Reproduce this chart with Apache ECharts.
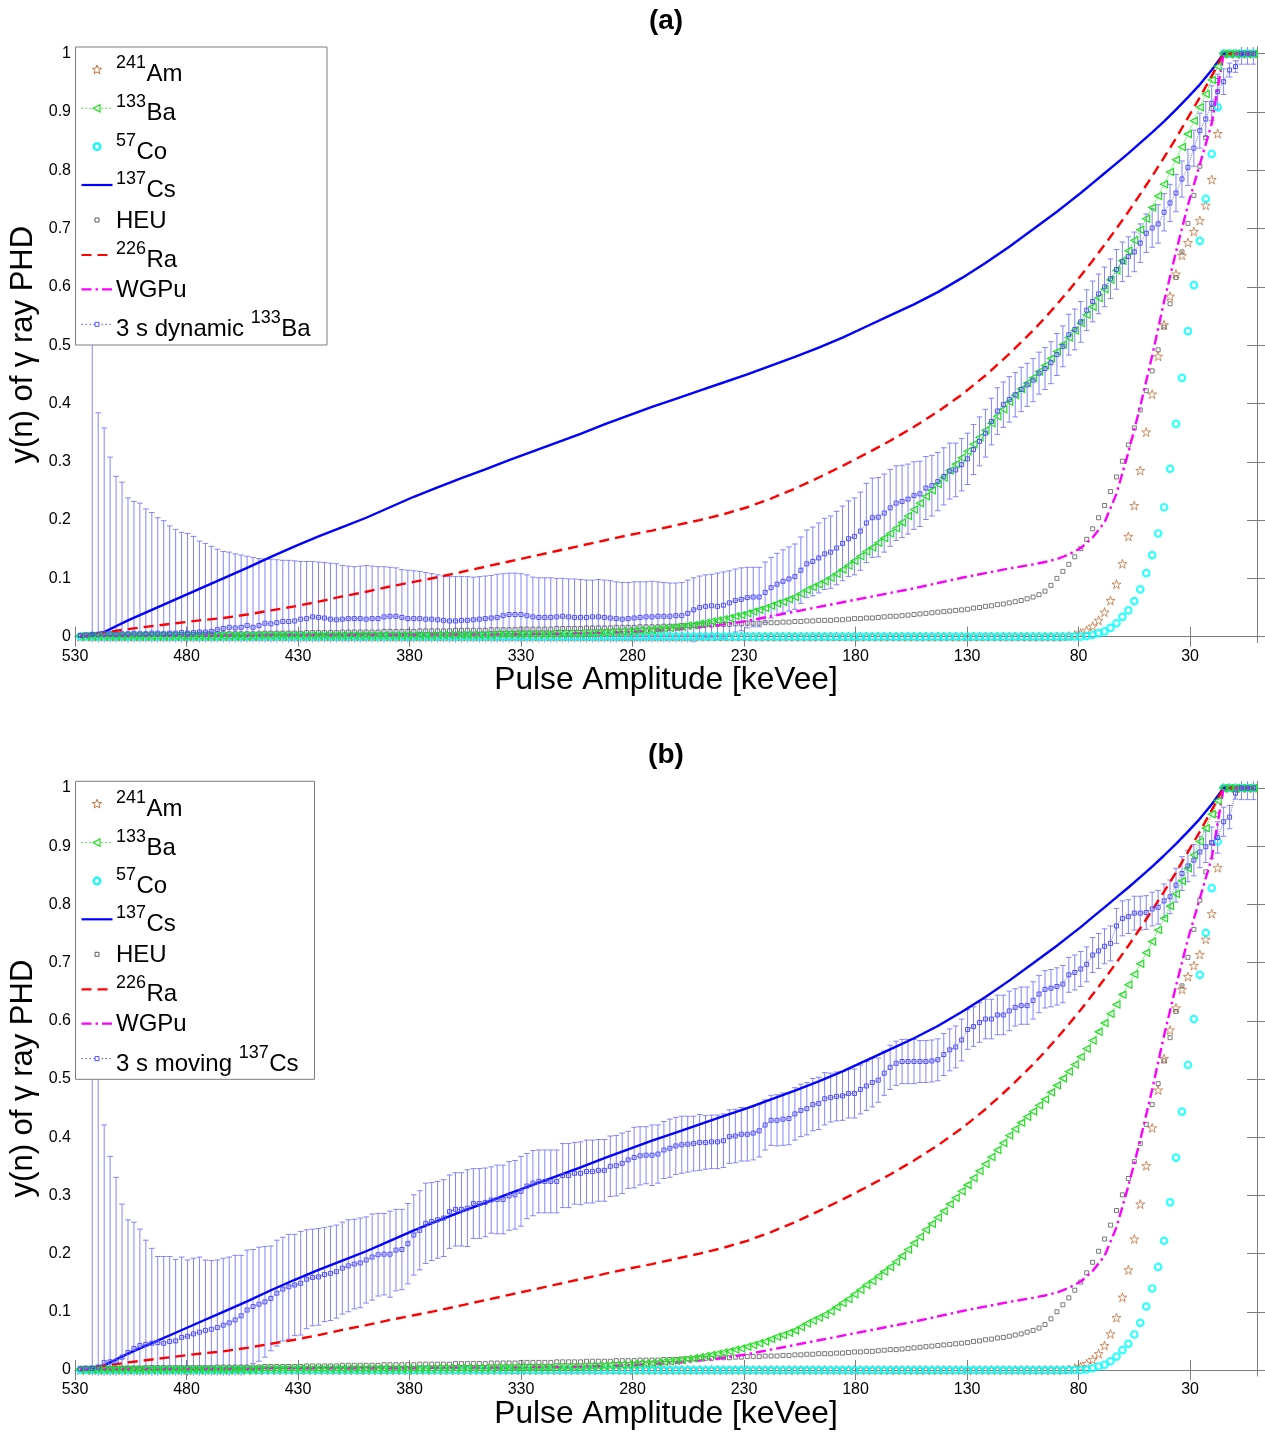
<!DOCTYPE html>
<html>
<head>
<meta charset="utf-8">
<script src="https://cdn.jsdelivr.net/npm/echarts@6.0.0/dist/echarts.min.js"></script>
<style>
  html, body { margin: 0; padding: 0; background: #ffffff; }
  #chart { width: 1265px; height: 1433px; }
</style>
</head>
<body>
<div id="chart"></div>
<script>
// Pulse-height-distribution cumulative curves y(n) versus pulse amplitude.

// Bin centres of the spectra (keVee)
const energyKeV = [
  527.60, 524.93, 522.26, 519.59, 516.92, 514.25, 511.58, 508.91, 506.24, 503.57,
  500.90, 498.23, 495.56, 492.89, 490.22, 487.55, 484.88, 482.21, 479.54, 476.87,
  474.20, 471.53, 468.86, 466.19, 463.52, 460.85, 458.18, 455.51, 452.84, 450.17,
  447.50, 444.83, 442.16, 439.49, 436.82, 434.15, 431.48, 428.81, 426.14, 423.47,
  420.80, 418.13, 415.46, 412.79, 410.12, 407.45, 404.78, 402.11, 399.44, 396.77,
  394.10, 391.43, 388.76, 386.09, 383.42, 380.75, 378.08, 375.41, 372.74, 370.07,
  367.40, 364.73, 362.06, 359.39, 356.72, 354.05, 351.38, 348.71, 346.04, 343.37,
  340.70, 338.03, 335.36, 332.69, 330.02, 327.35, 324.68, 322.01, 319.34, 316.67,
  314.00, 311.33, 308.66, 305.99, 303.32, 300.65, 297.98, 295.31, 292.64, 289.97,
  287.30, 284.63, 281.96, 279.29, 276.62, 273.95, 271.28, 268.61, 265.94, 263.27,
  260.60, 257.93, 255.26, 252.59, 249.92, 247.25, 244.58, 241.91, 239.24, 236.57,
  233.90, 231.23, 228.56, 225.89, 223.22, 220.55, 217.88, 215.21, 212.54, 209.87,
  207.20, 204.53, 201.86, 199.19, 196.52, 193.85, 191.18, 188.51, 185.84, 183.17,
  180.50, 177.83, 175.16, 172.49, 169.82, 167.15, 164.48, 161.81, 159.14, 156.47,
  153.80, 151.13, 148.46, 145.79, 143.12, 140.45, 137.78, 135.11, 132.44, 129.77,
  127.10, 124.43, 121.76, 119.09, 116.42, 113.75, 111.08, 108.41, 105.74, 103.07,
  100.40, 97.73, 95.06, 92.39, 89.72, 87.05, 84.38, 81.71, 79.04, 76.37,
  73.70, 71.03, 68.36, 65.69, 63.02, 60.35, 57.68, 55.01, 52.34, 49.67,
  47.00, 44.33, 41.66, 38.99, 36.32, 33.65, 30.98, 28.31, 25.64, 22.97,
  20.30, 17.63, 14.96, 12.29, 9.62, 6.95, 4.28, 1.61
];

// 241Am (stars)
const am241 = [
  0,0,0,0,0,0,0,0,0,0,0,0,0,0,0,0,0,0,0,0,
  0,0,0,0,0,0,0,0,0,0,0,0,0,0,0,0,0,0,0,0,
  0,0,0,0,0,0,0,0,0,0,0,0,0,0,0,0,0,0,0,0,
  0,0,0,0,0,0,0,0,0,0,0,0,0,0,0,0,0,0,0,0,
  0,0,0,0,0,0,0,0,0,0,0,0,0,0,0,0,0,0,0,0,
  0,0,0,0,0,0,0,0,0,0,0,0,0,0,0,0,0,0,0,0,
  0,0,0,0,0,0,0,0,0,0,0,0,0,0,0,0,0,0,0,0,
  0,0,0,0,0,0,0,0,0,0,0,0,0,0,0,0,0,0,0,0,
  0,0,0,0,0,0,
  0.001, 0.003, 0.006, 0.011,
  0.018, 0.028, 0.042, 0.062, 0.090, 0.125, 0.172, 0.225, 0.285, 0.351,
  0.416, 0.481, 0.535, 0.584, 0.622, 0.654, 0.676, 0.695, 0.714, 0.740,
  0.784, 0.863, 1, 1, 1, 1, 1, 1
];

// 133Ba (triangles, dotted)
const ba133 = [
  0.001,0.001,0.001,0.001,0.001,0.001,0.001,0.001,0.001,0.001,
  0.001,0.001,0.001,0.001,0.001,0.001,0.001,0.001,0.001,0.001,
  0.001,0.001,0.001,0.001,0.001,0.001,0.001,0.001,0.001,0.001,
  0.002,0.002,0.002,0.002,0.002,0.002,0.002,0.002,0.002,0.002,
  0.002,0.002,0.002,0.002,0.002,0.002,0.002,0.002,0.002,0.002,
  0.002,0.002,0.002,0.002,0.002,0.002,0.002,0.002,0.002,0.002,
  0.003,0.003,0.003,0.003,0.003,0.003,0.003,0.003,0.003,0.003,
  0.004,0.004,0.004,0.004,0.004,0.004,0.004,0.004,0.004,0.004,
  0.005,0.005,0.005,0.005,0.005,0.006,0.006,0.007,0.007,0.008,
  0.008,0.009,0.009,0.010,0.011,0.011,0.012,0.013,0.014,0.015,
  0.016,0.017,0.019,0.020,0.022,0.024,0.026,0.028,0.030,0.032,
  0.035,0.037,0.040,0.043,0.046,0.049,0.053,0.057,0.060,0.064,
  0.068,0.074,0.080,0.085,0.090,0.095,0.101,0.108,0.115,0.122,
  0.130,0.138,0.146,0.153,0.161,0.169,0.177,0.186,0.196,0.207,
  0.218,0.229,0.241,0.251,0.262,0.273,0.285,0.296,0.307,0.318,
  0.330,0.342,0.354,0.366,0.378,0.390,0.403,0.414,0.425,0.435,
  0.444,0.455,0.465,0.477,0.489,0.501,0.513,0.525,0.538,0.552,
  0.566,0.581,0.596,0.612,0.628,0.645,0.662,0.680,0.698,0.717,
  0.736,0.756,0.776,0.797,0.818,0.840,0.862,0.885,0.908,0.931,
  0.955,0.978,1,1,1,1,1,1
];

// 57Co (circles)
const co57 = [
  0,0,0,0,0,0,0,0,0,0,0,0,0,0,0,0,0,0,0,0,
  0,0,0,0,0,0,0,0,0,0,0,0,0,0,0,0,0,0,0,0,
  0,0,0,0,0,0,0,0,0,0,0,0,0,0,0,0,0,0,0,0,
  0,0,0,0,0,0,0,0,0,0,0,0,0,0,0,0,0,0,0,0,
  0,0,0,0,0,0,0,0,0,0,0,0,0,0,0,0,0,0,0,0,
  0,0,0,0,0,0,0,0,0,0,0,0,0,0,0,0,0,0,0,0,
  0,0,0,0,0,0,0,0,0,0,0,0,0,0,0,0,0,0,0,0,
  0,0,0,0,0,0,0,0,0,0,0,0,0,0,0,0,0,0,0,0,
  0,0,0,0,0,0,0,0,0,
  0.001,
  0.003, 0.006, 0.009, 0.015, 0.023, 0.034, 0.045, 0.061, 0.081, 0.109,
  0.140, 0.177, 0.222, 0.288, 0.365, 0.444, 0.524, 0.603, 0.679, 0.751,
  0.828, 0.908, 1, 1, 1, 1, 1, 1
];

// HEU (small squares)
const heu = [
  0.002,0.002,0.003,0.003,0.003,0.003,0.003,0.003,0.003,0.003,
  0.003,0.004,0.004,0.004,0.004,0.004,0.004,0.004,0.004,0.004,
  0.004,0.004,0.004,0.005,0.005,0.005,0.005,0.005,0.005,0.005,
  0.005,0.006,0.006,0.006,0.006,0.006,0.006,0.006,0.007,0.007,
  0.007,0.007,0.007,0.007,0.008,0.008,0.008,0.008,0.008,0.008,
  0.008,0.009,0.009,0.009,0.009,0.009,0.009,0.010,0.010,0.010,
  0.010,0.010,0.010,0.011,0.011,0.011,0.011,0.011,0.011,0.012,
  0.012,0.012,0.012,0.012,0.013,0.013,0.013,0.013,0.013,0.013,
  0.014,0.014,0.014,0.014,0.014,0.015,0.015,0.015,0.015,0.015,
  0.016,0.016,0.016,0.016,0.017,0.017,0.017,0.017,0.018,0.018,
  0.018,0.019,0.019,0.019,0.020,0.020,0.020,0.021,0.021,0.021,
  0.022,0.022,0.023,0.023,0.023,0.024,0.024,0.024,0.025,0.025,
  0.026,0.026,0.027,0.027,0.028,0.028,0.028,0.029,0.029,0.030,
  0.031,0.031,0.032,0.032,0.033,0.034,0.035,0.035,0.036,0.037,
  0.038,0.039,0.040,0.041,0.042,0.043,0.044,0.045,0.046,0.047,
  0.049,0.050,0.052,0.053,0.055,0.056,0.058,0.060,0.062,0.065,
  0.068,0.072,0.078,0.088,0.100,0.112,0.124,0.137,0.151,0.167,
  0.185,0.204,0.225,0.249,0.274,0.301,0.329,0.358,0.389,0.422,
  0.456,0.492,0.531,0.571,0.616,0.660,0.709,0.757,0.807,0.856,
  0.906,0.954,1,1,1,1,1,1
];

// Energies used for the continuous curves (137Cs, 226Ra, WGPu)
const lineEnergyKeV = [
  527.60, 516.92, 506.24, 495.56, 484.88, 474.20, 463.52, 452.84, 442.16, 431.48,
  420.80, 410.12, 399.44, 388.76, 378.08, 367.40, 356.72, 346.04, 335.36, 324.68,
  314.00, 303.32, 292.64, 281.96, 271.28, 260.60, 249.92, 239.24, 228.56, 217.88,
  207.20, 196.52, 185.84, 175.16, 164.48, 153.80, 143.12, 132.44, 121.76, 111.08,
  100.40, 95.06, 89.72, 84.38, 79.04, 73.70, 68.36, 63.02, 57.68, 52.34,
  47.00, 41.66, 36.32, 30.98, 25.64, 20.30, 14.96, 1.61
];

const cs137 = [
  0.000, 0.008, 0.028, 0.046, 0.064, 0.082, 0.100, 0.118, 0.137, 0.155,
  0.172, 0.188, 0.204, 0.222, 0.240, 0.256, 0.272, 0.287, 0.303, 0.318,
  0.333, 0.348, 0.364, 0.379, 0.394, 0.408, 0.422, 0.436, 0.450, 0.465,
  0.480, 0.496, 0.513, 0.532, 0.551, 0.570, 0.591, 0.615, 0.641, 0.669,
  0.699, 0.714, 0.729, 0.745, 0.761, 0.778, 0.795, 0.812, 0.829, 0.847,
  0.865, 0.884, 0.904, 0.925, 0.947, 0.972, 1.000, 1.000
];

const ra226 = [
  0.000, 0.007, 0.013, 0.018, 0.023, 0.028, 0.032, 0.038, 0.045, 0.052,
  0.060, 0.069, 0.077, 0.086, 0.094, 0.102, 0.111, 0.120, 0.129, 0.138,
  0.147, 0.156, 0.165, 0.174, 0.182, 0.191, 0.200, 0.210, 0.222, 0.237,
  0.254, 0.273, 0.293, 0.314, 0.336, 0.360, 0.386, 0.415, 0.448, 0.485,
  0.525, 0.547, 0.570, 0.594, 0.619, 0.645, 0.672, 0.700, 0.729, 0.759,
  0.790, 0.822, 0.855, 0.890, 0.925, 0.962, 1.000, 1.000
];

const wgpu = [
  0.002, 0.002, 0.002, 0.002, 0.002, 0.002, 0.002, 0.002, 0.003, 0.003,
  0.003, 0.003, 0.003, 0.003, 0.003, 0.004, 0.004, 0.004, 0.004, 0.005,
  0.005, 0.006, 0.007, 0.008, 0.010, 0.012, 0.016, 0.021, 0.027, 0.035,
  0.043, 0.051, 0.059, 0.067, 0.075, 0.083, 0.092, 0.101, 0.109, 0.117,
  0.124, 0.128, 0.133, 0.141, 0.152, 0.170, 0.196, 0.245, 0.316, 0.395,
  0.482, 0.575, 0.660, 0.740, 0.810, 0.880, 1.000, 1.000
];

// 3 s dynamic 133Ba: mean and standard deviation per bin
const dynBa133Mean = [
  0.002,0.003,0.004,0.004,0.005,0.005,0.004,0.005,0.005,0.006,
  0.005,0.005,0.006,0.006,0.005,0.006,0.006,0.007,0.006,0.007,
  0.008,0.008,0.009,0.012,0.014,0.016,0.015,0.016,0.019,0.016,
  0.019,0.023,0.022,0.024,0.026,0.026,0.027,0.030,0.031,0.034,
  0.033,0.032,0.030,0.029,0.030,0.031,0.031,0.031,0.030,0.031,
  0.031,0.034,0.035,0.035,0.033,0.031,0.031,0.031,0.030,0.030,
  0.029,0.028,0.027,0.027,0.028,0.028,0.029,0.030,0.031,0.032,
  0.033,0.036,0.038,0.038,0.038,0.036,0.034,0.033,0.033,0.033,
  0.034,0.035,0.034,0.033,0.033,0.033,0.034,0.034,0.033,0.032,
  0.031,0.030,0.031,0.032,0.033,0.034,0.034,0.035,0.035,0.035,
  0.036,0.036,0.040,0.046,0.050,0.052,0.053,0.052,0.054,0.058,
  0.062,0.064,0.067,0.068,0.068,0.076,0.084,0.090,0.095,0.099,
  0.103,0.114,0.125,0.129,0.135,0.142,0.145,0.152,0.160,0.168,
  0.172,0.181,0.195,0.204,0.205,0.212,0.221,0.229,0.232,0.236,
  0.242,0.245,0.255,0.259,0.266,0.275,0.284,0.286,0.295,0.305,
  0.321,0.335,0.349,0.369,0.387,0.398,0.407,0.415,0.424,0.432,
  0.440,0.452,0.460,0.470,0.484,0.498,0.518,0.527,0.540,0.560,
  0.575,0.588,0.600,0.614,0.630,0.643,0.652,0.660,0.675,0.692,
  0.701,0.708,0.728,0.744,0.761,0.785,0.805,0.838,0.868,0.888,
  0.915,0.935,0.952,0.972,0.978,1,1,1
];
const dynBa133Err = [
  0,0,0.616,0.380,0.353,0.303,0.271,0.260,0.233,0.226,
  0.224,0.214,0.207,0.198,0.194,0.184,0.178,0.172,0.171,0.165,
  0.156,0.152,0.146,0.138,0.132,0.129,0.127,0.124,0.119,0.120,
  0.115,0.110,0.111,0.108,0.105,0.105,0.103,0.099,0.098,0.095,
  0.095,0.095,0.096,0.096,0.092,0.090,0.089,0.090,0.092,0.090,
  0.089,0.086,0.084,0.083,0.082,0.083,0.082,0.081,0.080,0.078,
  0.077,0.076,0.076,0.076,0.075,0.075,0.073,0.073,0.073,0.073,
  0.074,0.072,0.071,0.071,0.070,0.070,0.068,0.068,0.068,0.068,
  0.066,0.065,0.065,0.066,0.065,0.064,0.063,0.064,0.064,0.064,
  0.063,0.063,0.062,0.062,0.061,0.060,0.061,0.059,0.058,0.057,
  0.056,0.057,0.057,0.055,0.054,0.054,0.054,0.057,0.057,0.055,
  0.054,0.054,0.052,0.051,0.051,0.052,0.052,0.053,0.054,0.055,
  0.056,0.057,0.058,0.059,0.060,0.061,0.062,0.063,0.064,0.065,
  0.066,0.067,0.068,0.068,0.068,0.067,0.066,0.064,0.062,0.060,
  0.058,0.056,0.054,0.052,0.050,0.049,0.048,0.046,0.045,0.044,
  0.043,0.042,0.041,0.040,0.040,0.039,0.039,0.038,0.038,0.037,
  0.037,0.036,0.036,0.036,0.036,0.035,0.035,0.035,0.035,0.035,
  0.035,0.034,0.034,0.034,0.034,0.034,0.034,0.034,0.033,0.033,
  0.033,0.033,0.032,0.032,0.032,0.031,0.031,0.031,0.030,0.030,
  0.030,0.030,0.022,0.012,0.010,0.018,0.018,0.018
];

// 3 s moving 137Cs: mean and standard deviation per bin
const movCs137Mean = [
  0.002,0.003,0.003,0.005,0.013,0.014,0.015,0.022,0.030,0.037,
  0.042,0.044,0.046,0.047,0.046,0.049,0.050,0.056,0.058,0.062,
  0.065,0.068,0.070,0.073,0.077,0.081,0.086,0.093,0.103,0.109,
  0.113,0.117,0.123,0.132,0.139,0.143,0.146,0.149,0.156,0.159,
  0.160,0.164,0.166,0.169,0.175,0.179,0.182,0.184,0.189,0.194,
  0.198,0.199,0.199,0.206,0.207,0.217,0.232,0.240,0.252,0.255,
  0.258,0.261,0.272,0.276,0.276,0.278,0.286,0.286,0.288,0.292,
  0.293,0.293,0.299,0.301,0.307,0.316,0.321,0.324,0.324,0.324,
  0.324,0.334,0.334,0.338,0.338,0.341,0.341,0.343,0.343,0.350,
  0.351,0.355,0.361,0.365,0.368,0.369,0.369,0.371,0.378,0.381,
  0.385,0.387,0.388,0.389,0.391,0.391,0.392,0.392,0.394,0.401,
  0.402,0.405,0.405,0.407,0.411,0.421,0.429,0.429,0.431,0.432,
  0.440,0.446,0.449,0.456,0.458,0.466,0.468,0.470,0.471,0.475,
  0.475,0.482,0.488,0.494,0.498,0.510,0.520,0.527,0.530,0.530,
  0.530,0.530,0.530,0.531,0.533,0.542,0.550,0.555,0.567,0.585,
  0.590,0.597,0.603,0.603,0.610,0.610,0.617,0.623,0.626,0.626,
  0.635,0.646,0.654,0.656,0.659,0.663,0.679,0.683,0.689,0.697,
  0.713,0.720,0.728,0.733,0.763,0.776,0.779,0.785,0.785,0.786,
  0.792,0.795,0.806,0.813,0.833,0.853,0.866,0.876,0.890,0.899,
  0.906,0.915,0.942,0.950,0.991,1,1,1
];
const movCs137Err = [
  0,0,0.617,0.575,0.408,0.353,0.316,0.263,0.228,0.217,
  0.200,0.179,0.163,0.148,0.149,0.146,0.140,0.138,0.131,0.130,
  0.129,0.121,0.118,0.116,0.115,0.113,0.111,0.104,0.103,0.098,
  0.098,0.095,0.090,0.091,0.089,0.090,0.087,0.089,0.085,0.083,
  0.083,0.081,0.081,0.080,0.079,0.079,0.077,0.077,0.074,0.074,
  0.071,0.070,0.074,0.070,0.069,0.069,0.069,0.068,0.069,0.067,
  0.066,0.066,0.063,0.063,0.063,0.066,0.060,0.060,0.059,0.057,
  0.059,0.059,0.059,0.059,0.060,0.056,0.056,0.054,0.054,0.054,
  0.054,0.055,0.055,0.053,0.054,0.054,0.054,0.053,0.053,0.052,
  0.052,0.052,0.049,0.052,0.050,0.049,0.052,0.050,0.049,0.050,
  0.049,0.049,0.048,0.047,0.048,0.046,0.046,0.046,0.046,0.046,
  0.046,0.046,0.046,0.046,0.045,0.043,0.043,0.044,0.045,0.045,
  0.045,0.045,0.045,0.045,0.045,0.045,0.042,0.042,0.042,0.042,
  0.042,0.042,0.042,0.042,0.038,0.038,0.038,0.038,0.038,0.038,
  0.038,0.036,0.036,0.036,0.036,0.036,0.036,0.036,0.036,0.034,
  0.034,0.034,0.034,0.034,0.034,0.034,0.034,0.032,0.032,0.032,
  0.032,0.032,0.032,0.032,0.032,0.032,0.030,0.030,0.030,0.030,
  0.030,0.030,0.030,0.030,0.030,0.030,0.029,0.029,0.029,0.029,
  0.029,0.029,0.029,0.029,0.029,0.029,0.027,0.027,0.027,0.027,
  0.027,0.027,0.025,0.020,0.010,0.020,0.020,0.020
];

// Axis ticks
const xTicks = [530, 480, 430, 380, 330, 280, 230, 180, 130, 80, 30];
const yTicks = [0, 0.1, 0.2, 0.3, 0.4, 0.5, 0.6, 0.7, 0.8, 0.9, 1];

const FONT = '"Liberation Sans", Arial, Helvetica, sans-serif';
const C = {
  am: '#c4733f', ba: '#1ee01e', co: '#00ffff', cs: '#0000ff', heu: '#5a5a5a',
  ra: '#ff0000', wgpu: '#ff00ff', dyn: '#4f4fff', dynBar: '#8383ff', frame: '#7c7c7c'
};
const STAR = 'path://M50,2 L61.2,36.5 L97.5,36.5 L68.2,57.8 L79.4,92.3 L50,71 L20.6,92.3 L31.8,57.8 L2.5,36.5 L38.8,36.5 Z';
const CLEAR = 'rgba(0,0,0,0)';

const PANELS = [
  { top: 47, height: 595.5, title: '(a)', dynMean: dynBa133Mean, dynErr: dynBa133Err,
    dynLabel: ['3 s dynamic ', '133', 'Ba'], legendW: 251.5 },
  { top: 781.3, height: 594.5, title: '(b)', dynMean: movCs137Mean, dynErr: movCs137Err,
    dynLabel: ['3 s moving ', '137', 'Cs'], legendW: 239 }
];
const GRID_LEFT = 75, GRID_W = 1182;

const pairs = (xs, ys) => xs.map((x, i) => [x, ys[i]]);

function errorBar(params, api) {
  const err = api.value(3);
  if (!(err > 0)) return null;
  const x = api.value(0);
  const hi = api.coord([x, api.value(2)]);
  const lo = api.coord([x, api.value(1)]);
  const w = 2.8;
  const style = { stroke: C.dynBar, lineWidth: 1 };
  return {
    type: 'group',
    children: [
      { type: 'line', shape: { x1: hi[0], y1: hi[1], x2: lo[0], y2: lo[1] }, style },
      { type: 'line', shape: { x1: hi[0] - w, y1: hi[1], x2: hi[0] + w, y2: hi[1] }, style },
      { type: 'line', shape: { x1: lo[0] - w, y1: lo[1], x2: lo[0] + w, y2: lo[1] }, style }
    ]
  };
}

const grids = [], xAxes = [], yAxes = [], series = [], graphics = [];

PANELS.forEach((p, k) => {
  grids.push({ left: GRID_LEFT, top: p.top, width: GRID_W, height: p.height });
  const frameLine = { show: true, lineStyle: { color: C.frame, width: 1 } };
  const tickStyle = { color: C.frame, width: 1 };
  xAxes.push({
    gridIndex: k, type: 'value', min: 0, max: 530, inverse: true, position: 'bottom',
    axisLine: frameLine,
    axisTick: { inside: true, length: 10, customValues: xTicks, lineStyle: tickStyle },
    axisLabel: { customValues: xTicks, fontFamily: FONT, fontSize: 16, color: '#000', margin: 6 },
    splitLine: { show: false }
  });
  xAxes.push({
    gridIndex: k, type: 'value', min: 0, max: 530, inverse: true, position: 'top',
    axisLine: frameLine,
    axisTick: { inside: true, length: 10, customValues: xTicks, lineStyle: tickStyle },
    axisLabel: { show: false }, splitLine: { show: false }
  });
  yAxes.push({
    gridIndex: k, type: 'value', min: -0.01, max: 1.0115, position: 'left',
    axisLine: frameLine,
    axisTick: { inside: true, length: 10, customValues: yTicks, lineStyle: tickStyle },
    axisLabel: {
      customValues: yTicks, fontFamily: FONT, fontSize: 16, color: '#000', margin: 4,
      formatter: v => (v === 0 || v === 1) ? String(v) : v.toFixed(1)
    },
    splitLine: { show: false }
  });
  yAxes.push({
    gridIndex: k, type: 'value', min: -0.01, max: 1.0115, position: 'right',
    axisLine: frameLine,
    axisTick: { inside: true, length: 10, customValues: yTicks, lineStyle: tickStyle },
    axisLabel: { show: false }, splitLine: { show: false }
  });

  const ax = { xAxisIndex: 2 * k, yAxisIndex: 2 * k };
  const common = Object.assign({ animation: false, silent: true }, ax);

  series.push(Object.assign({
    type: 'custom', clip: true, renderItem: errorBar, encode: { x: 0, y: [1, 2] },
    data: energyKeV.map((e, i) => [e, p.dynMean[i] - p.dynErr[i], p.dynMean[i] + p.dynErr[i], p.dynErr[i]])
  }, common));
  series.push(Object.assign({
    type: 'scatter', data: pairs(energyKeV, am241), symbol: STAR, symbolSize: 9,
    itemStyle: { color: CLEAR, borderColor: C.am, borderWidth: 1 }
  }, common));
  series.push(Object.assign({
    type: 'line', data: pairs(energyKeV, ba133), symbol: 'triangle', symbolSize: 7, symbolRotate: 90,
    showSymbol: true, showAllSymbol: true,
    lineStyle: { color: C.ba, width: 1, type: 'dotted' },
    itemStyle: { color: CLEAR, borderColor: C.ba, borderWidth: 1.2 }
  }, common));
  series.push(Object.assign({
    type: 'scatter', data: pairs(energyKeV, co57), symbol: 'circle', symbolSize: 6.5,
    itemStyle: { color: CLEAR, borderColor: C.co, borderWidth: 2.2 }
  }, common));
  series.push(Object.assign({
    type: 'line', data: pairs(lineEnergyKeV, cs137), showSymbol: false,
    lineStyle: { color: C.cs, width: 2.4 }
  }, common));
  series.push(Object.assign({
    type: 'scatter', data: pairs(energyKeV, heu), symbol: 'rect', symbolSize: 4,
    itemStyle: { color: CLEAR, borderColor: C.heu, borderWidth: 1 }
  }, common));
  series.push(Object.assign({
    type: 'line', data: pairs(lineEnergyKeV, ra226), showSymbol: false,
    lineStyle: { color: C.ra, width: 2.4, type: [10, 6] }
  }, common));
  series.push(Object.assign({
    type: 'line', data: pairs(lineEnergyKeV, wgpu), showSymbol: false,
    lineStyle: { color: C.wgpu, width: 2.4, type: [10, 4, 2.5, 4] }
  }, common));
  series.push(Object.assign({
    type: 'line', data: pairs(energyKeV, p.dynMean), symbol: 'rect', symbolSize: 4,
    showSymbol: true, showAllSymbol: true,
    lineStyle: { color: C.dyn, width: 1, type: 'dotted', opacity: 0.8 },
    itemStyle: { color: CLEAR, borderColor: C.dyn, borderWidth: 1 }
  }, common));

  // Panel title and axis titles
  const bottom = p.top + p.height;
  graphics.push({
    type: 'text', x: GRID_LEFT + GRID_W / 2, y: p.top - 26, z: 100,
    style: { text: p.title, font: 'bold 28px ' + FONT, fill: '#000',
             align: 'center', verticalAlign: 'middle', textAlign: 'center', textVerticalAlign: 'middle' }
  });
  graphics.push({
    type: 'text', x: GRID_LEFT + GRID_W / 2, y: bottom + 38, z: 100,
    style: { text: 'Pulse Amplitude [keVee]', font: '31.7px ' + FONT, fill: '#000',
             align: 'center', verticalAlign: 'middle', textAlign: 'center', textVerticalAlign: 'middle' }
  });
  graphics.push({
    type: 'text', x: 23, y: p.top + p.height / 2, rotation: Math.PI / 2, z: 100,
    style: { text: 'y(n) of \u03b3 ray PHD', font: '31px ' + FONT, fill: '#000',
             align: 'center', verticalAlign: 'middle', textAlign: 'center', textVerticalAlign: 'middle' }
  });

  // Legend
  const top = p.top;
  graphics.push({
    type: 'rect', z: 100,
    shape: { x: GRID_LEFT + 0.5, y: top, width: p.legendW, height: 298 },
    style: { fill: '#fff', stroke: C.frame, lineWidth: 1 }
  });
  const rows = [
    { icon: 'am', dy: 22.3, parts: [['', ''], ['241', 'Am']] },
    { icon: 'ba', dy: 61.3, parts: [['', ''], ['133', 'Ba']] },
    { icon: 'co', dy: 99.7, parts: [['', ''], ['57', 'Co']] },
    { icon: 'cs', dy: 138, parts: [['', ''], ['137', 'Cs']] },
    { icon: 'heu', dy: 173, parts: [['HEU', '']] },
    { icon: 'ra', dy: 208, parts: [['', ''], ['226', 'Ra']] },
    { icon: 'wgpu', dy: 242.3, parts: [['WGPu', '']] },
    { icon: 'dyn', dy: 277.3, parts: [[p.dynLabel[0], ''], [p.dynLabel[1], p.dynLabel[2]]] }
  ];
  const ctx = document.createElement('canvas').getContext('2d');
  const width = (s, size) => { ctx.font = size + 'px ' + FONT; return ctx.measureText(s).width; };
  rows.forEach(r => {
    const iy = top + r.dy;
    const hasSup = r.parts.length > 1;
    const my = hasSup ? iy + 5.4 : iy + 1;
    let x = 116;
    r.parts.forEach(([a, b], j) => {
      // part 0: plain text; part 1: superscript followed by its symbol
      if (j === 0) {
        if (a) {
          graphics.push({ type: 'text', x, y: my, z: 101,
            style: { text: a, font: '24px ' + FONT, fill: '#000', verticalAlign: 'middle', textVerticalAlign: 'middle' } });
          x += width(a, 24);
        }
      } else {
        graphics.push({ type: 'text', x, y: my - 11.4, z: 101,
          style: { text: a, font: '18px ' + FONT, fill: '#000', verticalAlign: 'middle', textVerticalAlign: 'middle' } });
        x += width(a, 18) + 0.5;
        graphics.push({ type: 'text', x, y: my, z: 101,
          style: { text: b, font: '24px ' + FONT, fill: '#000', verticalAlign: 'middle', textVerticalAlign: 'middle' } });
      }
    });
    const lx1 = 81.5, lx2 = 112.5, cx = 97;
    const seg = (stroke, lw, dash) => ({ type: 'line', z: 101,
      shape: { x1: lx1, y1: iy, x2: lx2, y2: iy }, style: { stroke, lineWidth: lw, lineDash: dash } });
    if (r.icon === 'am') {
      const pts = [];
      for (let t = 0; t < 10; t++) {
        const ang = -Math.PI / 2 + t * Math.PI / 5, rad = t % 2 ? 2.1 : 4.8;
        pts.push([cx + rad * Math.cos(ang), iy + 0.5 + rad * Math.sin(ang)]);
      }
      graphics.push({ type: 'polygon', z: 101, shape: { points: pts }, style: { fill: CLEAR, stroke: C.am, lineWidth: 1 } });
    } else if (r.icon === 'ba') {
      graphics.push(seg(C.ba, 1, [1.5, 2.5]));
      graphics.push({ type: 'polygon', z: 102, shape: { points: [[cx - 3.8, iy], [cx + 3, iy - 3.6], [cx + 3, iy + 3.6]] },
        style: { fill: '#fff', stroke: C.ba, lineWidth: 1.2 } });
    } else if (r.icon === 'co') {
      graphics.push({ type: 'circle', z: 101, shape: { cx, cy: iy, r: 3.3 }, style: { fill: CLEAR, stroke: C.co, lineWidth: 2.2 } });
    } else if (r.icon === 'cs') {
      graphics.push(seg(C.cs, 2.2, null));
    } else if (r.icon === 'heu') {
      graphics.push({ type: 'rect', z: 101, shape: { x: cx - 2, y: iy - 2, width: 4, height: 4 }, style: { fill: CLEAR, stroke: C.heu, lineWidth: 1 } });
    } else if (r.icon === 'ra') {
      graphics.push(seg(C.ra, 2.2, [10, 6]));
    } else if (r.icon === 'wgpu') {
      graphics.push(seg(C.wgpu, 2.2, [10, 4, 2.5, 4]));
    } else if (r.icon === 'dyn') {
      graphics.push(seg(C.dyn, 1, [1.5, 2.5]));
      graphics.push({ type: 'rect', z: 102, shape: { x: cx - 2, y: iy - 2, width: 4, height: 4 }, style: { fill: '#fff', stroke: C.dyn, lineWidth: 1 } });
    }
  });
});

const chart = echarts.init(document.getElementById('chart'), null, { renderer: 'canvas' });
chart.setOption({
  backgroundColor: '#ffffff',
  animation: false,
  grid: grids,
  xAxis: xAxes,
  yAxis: yAxes,
  series: series,
  graphic: { elements: graphics }
});
</script>
</body>
</html>
